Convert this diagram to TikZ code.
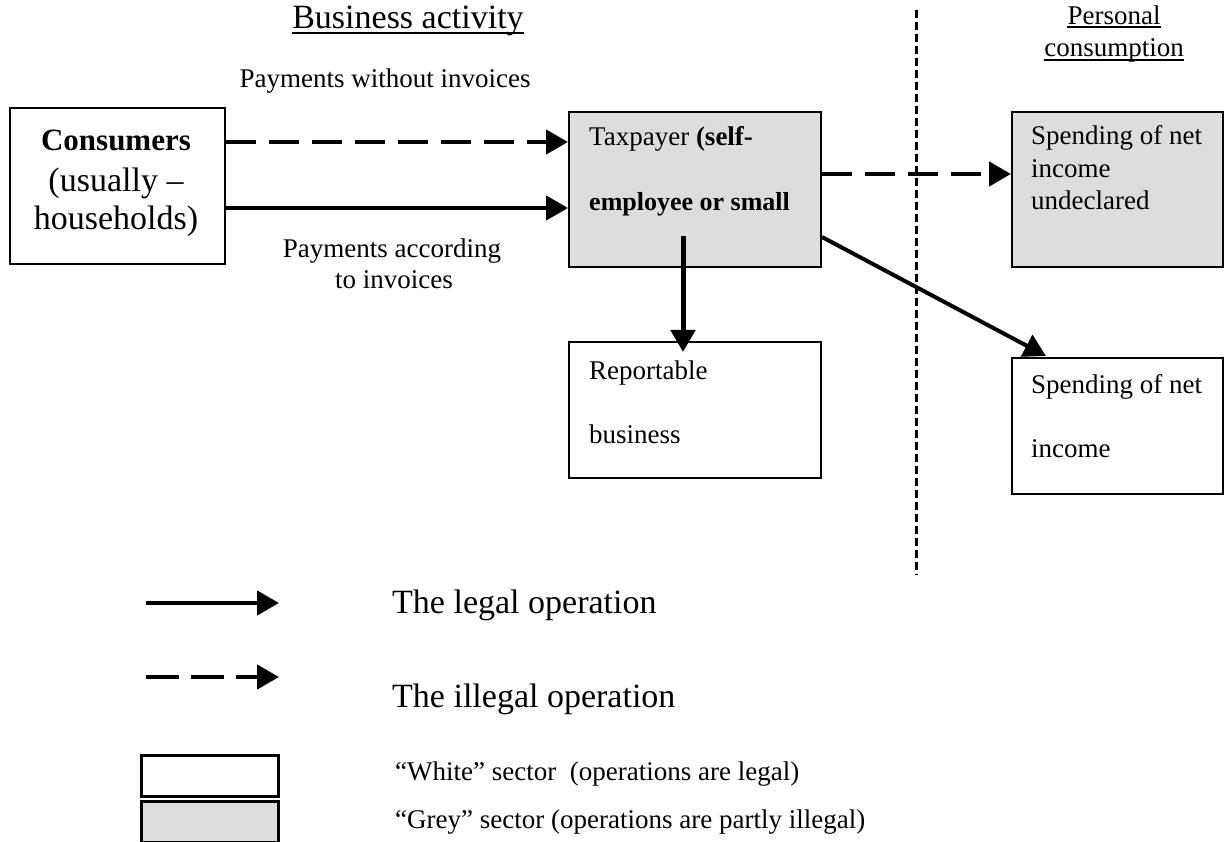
\documentclass[tikz,border=0pt]{standalone}
\usepackage{fontspec}
\setmainfont{Liberation Serif}
\usetikzlibrary{arrows.meta}
\definecolor{boxgrey}{RGB}{221,221,221}
\newcommand\myS{\fontsize{27pt}{31pt}\selectfont}
\newcommand\myL{\fontsize{34pt}{40pt}\selectfont}
\newcommand\myB{\fontsize{31pt}{36pt}\selectfont\bfseries}
\begin{document}
\begin{tikzpicture}[x=1pt,y=-1pt,
  box/.style={draw, line width=2pt, inner sep=0, anchor=north west, fill=white},
  greybox/.style={box, fill=boxgrey},
  lbl/.style={inner sep=0, anchor=base west, font=\myS},
  lblc/.style={inner sep=0, anchor=base, font=\myS},
  legalarr/.style={line width=4.5pt, -{Triangle[length=22pt,width=24pt]}},
  illegalarr/.style={legalarr, dash pattern=on 30pt off 13pt},
  divider/.style={line width=3pt, dash pattern=on 8pt off 4pt}]
\useasboundingbox (0,0) rectangle (1229,842);

% headings
\node[inner sep=0, anchor=base, font=\myL] (ba) at (408,29) {Business activity};
\draw[line width=1.8pt] ([yshift=-4pt]ba.base west) -- ([yshift=-4pt]ba.base east);
\node[lblc] (p1) at (1114,25) {Personal};
\draw[line width=1.5pt] ([yshift=-2pt]p1.base west) -- ([yshift=-2pt]p1.base east);
\node[lblc] (p2) at (1114,57) {consumption};
\draw[line width=1.5pt] ([yshift=-3pt]p2.base west) -- ([yshift=-3pt]p2.base east);

% divider
\coordinate (d0) at (916,10);
\coordinate (d1) at (916,575);
\draw[divider] (d0) -- (d1);

% boxes
\node[box, minimum width=215pt, minimum height=156pt] (cons) at (9,107) {};
\node[greybox, minimum width=252pt, minimum height=155pt] (tax) at (568,111) {};
\node[greybox, minimum width=211pt, minimum height=155pt] (und) at (1011,111) {};
\node[box, minimum width=252pt, minimum height=136pt] (rep) at (568,341) {};
\node[box, minimum width=211pt, minimum height=136pt] (net) at (1011,357) {};

% box texts
\node[inner sep=0, anchor=base, font=\myB] (c1) at (116,151) {Consumers};
\node[inner sep=0, anchor=base, font=\myL] (c2) at (116,192) {(usually –};
\node[inner sep=0, anchor=base, font=\myL] (c3) at (116,230) {households)};
\node[lbl] (t1) at (589,146) {Taxpayer \textbf{(self-}};
\node[lbl, font=\fontsize{26pt}{30pt}\selectfont\bfseries] (t2) at (589,211) {employee or small};
\node[lbl] (u1) at (1031,145) {Spending of net};
\node[lbl] (u2) at (1031,178) {income};
\node[lbl] (u3) at (1031,210) {undeclared};
\node[lbl] (r1) at (589,379) {Reportable};
\node[lbl] (r2) at (589,443) {business};
\node[lbl] (n1) at (1031,393) {Spending of net};
\node[lbl] (n2) at (1031,457) {income};

% arrow labels
\node[lblc] (pw) at (385,88) {Payments without invoices};
\node[lblc] (pa1) at (392,258) {Payments according};
\node[lblc] (pa2) at (394,289) {to invoices};

% connectors
\coordinate (y1) at (0,142);
\coordinate (y2) at (0,208);
\coordinate (y3) at (0,174);
\coordinate (y4) at (0,237);
\coordinate (v0) at (683,236);
\coordinate (dtip) at (1046,356);
\draw[illegalarr] (cons.east |- y1) -- (tax.west |- y1);
\draw[legalarr] (cons.east |- y2) -- (tax.west |- y2);
\draw[illegalarr] (tax.east |- y3) -- (und.west |- y3);
\draw[legalarr, line width=5pt] (v0) -- ([yshift=-11pt]v0 |- rep.north);
\draw[legalarr, line width=4pt] (tax.east |- y4) -- (dtip);

% legend
\coordinate (la0) at (146,603);
\coordinate (la1) at (279,603);
\coordinate (ld0) at (146,677);
\coordinate (ld1) at (279,677);
\draw[legalarr] (la0) -- (la1);
\draw[legalarr, dash pattern=on 33pt off 12pt] (ld0) -- (ld1);
\node[inner sep=0, anchor=base west, font=\myL] (lt1) at (392,613) {The legal operation};
\node[inner sep=0, anchor=base west, font=\myL] (lt2) at (392,707) {The illegal operation};
\node[box, line width=3pt, minimum width=137pt, minimum height=41pt] (lw) at (140,754) {};
\node[greybox, line width=3pt, minimum width=137pt, minimum height=41pt] (lg) at (140,800) {};
\node[lbl] (lwt) at (395,780) {“White” sector\ \ (operations are legal)};
\node[lbl] (lgt) at (395,828) {“Grey” sector (operations are partly illegal)};
\end{tikzpicture}
\end{document}
